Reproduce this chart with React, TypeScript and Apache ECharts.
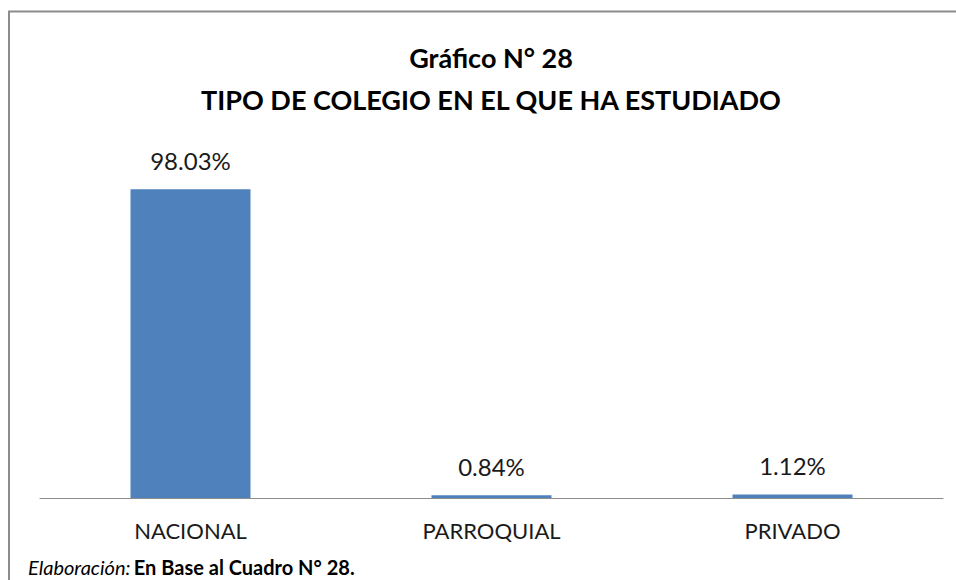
import React, { useEffect, useRef } from "react";
import * as echarts from "echarts";

const categories = ["NACIONAL", "PARROQUIAL", "PRIVADO"];
const values = [98.03, 0.84, 1.12];
const titleLines = ["Gráfico N° 28", "TIPO DE COLEGIO EN EL QUE HA ESTUDIADO"];
const footerItalic = "Elaboración:";
const footerBold = "En Base al Cuadro N° 28.";

export default function App() {
  const ref = useRef<HTMLDivElement>(null);
  useEffect(() => {
    if (!ref.current) return;
    const chart = echarts.init(ref.current, undefined, { renderer: "svg" });
    chart.setOption({
      animation: false,
      backgroundColor: "#ffffff",
      title: {
        text: titleLines.join("\n"),
        left: 486,
        textAlign: "center",
        top: 31,
        textStyle: {
          fontFamily: "Lato",
          fontWeight: "bold",
          fontSize: 27,
          lineHeight: 42,
          color: "#000000",
        },
      },
      grid: { left: 40, right: 13, top: 183, bottom: 82 },
      xAxis: {
        type: "category",
        data: categories,
        axisLine: { lineStyle: { color: "#8c8c8c", width: 1 } },
        axisTick: { show: false },
        axisLabel: {
          fontFamily: "Lato",
          fontSize: 22,
          color: "#1a1a1a",
          margin: 21,
        },
      },
      yAxis: {
        type: "value",
        min: 0,
        max: 100,
        show: false,
        splitLine: { show: false },
      },
      series: [
        {
          type: "bar",
          data: values,
          barWidth: 120,
          itemStyle: { color: "#4f81bd" },
          label: {
            show: true,
            position: "top",
            distance: 17,
            fontFamily: "Lato",
            fontSize: 24,
            color: "#1a1a1a",
            formatter: (p: any) => p.value.toFixed(2) + "%",
          },
        },
      ],
      graphic: [
        {
          type: "line",
          shape: { x1: 8, y1: 11.5, x2: 956, y2: 11.5 },
          style: { stroke: "#8c8c8c", lineWidth: 2 },
        },
        {
          type: "line",
          shape: { x1: 9, y1: 11, x2: 9, y2: 580 },
          style: { stroke: "#8c8c8c", lineWidth: 2 },
        },
        {
          type: "text",
          x: 28,
          y: 556,
          style: {
            text: "{a|" + footerItalic + "} {b|" + footerBold + "}",
            rich: {
              a: { fontFamily: "Lato", fontStyle: "italic", fontSize: 20, lineHeight: 22, color: "#000" },
              b: { fontFamily: "Lato", fontWeight: "bold", fontSize: 20, lineHeight: 22, color: "#000" },
            },
          },
        },
      ],
    });
    return () => chart.dispose();
  }, []);
  return (
    <div
      ref={ref}
      style={{ position: "fixed", left: 0, top: 0, width: 956, height: 580 }}
    />
  );
}
